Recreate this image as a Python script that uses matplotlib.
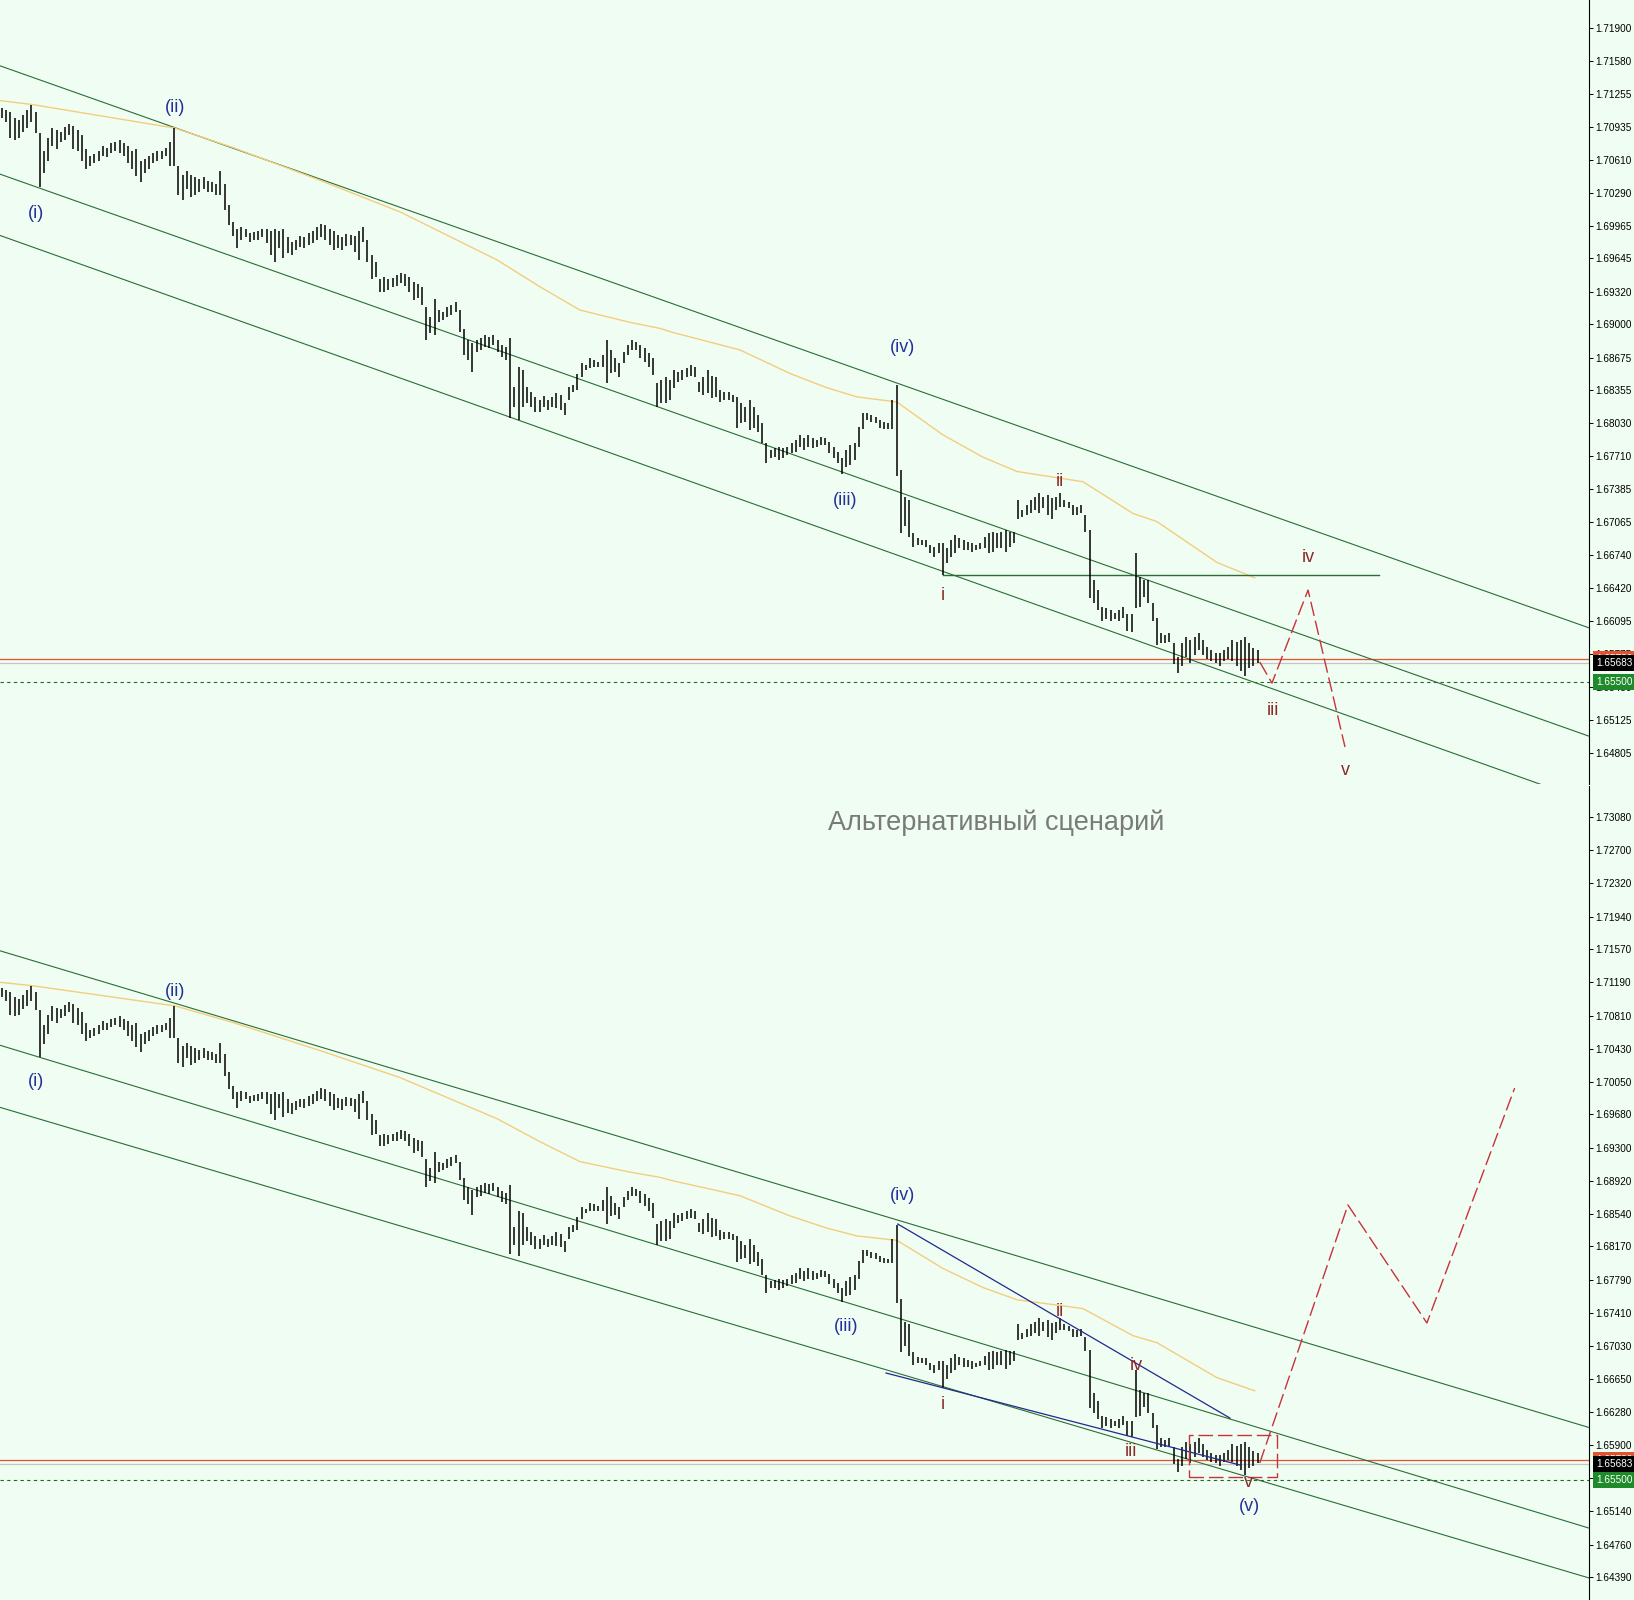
import matplotlib.pyplot as plt
from matplotlib.patches import Rectangle

plt.rcParams['font.family'] = ['Liberation Sans', 'DejaVu Sans']

# OHLC bar extremes (same price history in both panels)
bar_high = [
    1.7112, 1.7110, 1.7108, 1.7102, 1.7100, 1.7105, 1.7110, 1.7115, 1.7108, 1.7087,
    1.7070, 1.7082, 1.7092, 1.7090, 1.7088, 1.7093, 1.7096, 1.7094, 1.7090, 1.7085,
    1.7072, 1.7065, 1.7067, 1.7070, 1.7075, 1.7073, 1.7077, 1.7078, 1.7080, 1.7077,
    1.7075, 1.7070, 1.7072, 1.7060, 1.7062, 1.7065, 1.7068, 1.7070, 1.7070, 1.7073,
    1.7078, 1.7092, 1.7055, 1.7046, 1.7050, 1.7046, 1.7044, 1.7042, 1.7044, 1.7040,
    1.7039, 1.7037, 1.7050, 1.7037, 1.7017, 1.7000, 1.6993, 1.6995, 1.6993, 1.6989,
    1.6990, 1.6991, 1.6993, 1.6993, 1.6991, 1.6993, 1.6991, 1.6993, 1.6985, 1.6981,
    1.6983, 1.6986, 1.6985, 1.6989, 1.6991, 1.6995, 1.6998, 1.6997, 1.6993, 1.6991,
    1.6987, 1.6985, 1.6988, 1.6987, 1.6986, 1.6991, 1.6995, 1.6983, 1.6968, 1.6961,
    1.6944, 1.6946, 1.6944, 1.6945, 1.6948, 1.6950, 1.6949, 1.6946, 1.6941, 1.6939,
    1.6937, 1.6917, 1.6907, 1.6925, 1.6914, 1.6912, 1.6917, 1.6919, 1.6922, 1.6914,
    1.6895, 1.6885, 1.6882, 1.6885, 1.6887, 1.6890, 1.6888, 1.6890, 1.6885, 1.6880,
    1.6878, 1.6887, 1.6839, 1.6858, 1.6855, 1.6839, 1.6834, 1.6829, 1.6826, 1.6830,
    1.6826, 1.6829, 1.6833, 1.6831, 1.6823, 1.6839, 1.6841, 1.6851, 1.6862, 1.6860,
    1.6867, 1.6865, 1.6863, 1.6870, 1.6885, 1.6875, 1.6867, 1.6862, 1.6873, 1.6880,
    1.6885, 1.6883, 1.6880, 1.6877, 1.6872, 1.6867, 1.6843, 1.6846, 1.6848, 1.6846,
    1.6855, 1.6853, 1.6855, 1.6857, 1.6860, 1.6858, 1.6844, 1.6848, 1.6855, 1.6849,
    1.6848, 1.6836, 1.6834, 1.6834, 1.6831, 1.6829, 1.6823, 1.6819, 1.6826, 1.6819,
    1.6811, 1.6803, 1.6784, 1.6777, 1.6779, 1.6780, 1.6779, 1.6780, 1.6784, 1.6787,
    1.6792, 1.6789, 1.6792, 1.6789, 1.6787, 1.6790, 1.6789, 1.6785, 1.6780, 1.6775,
    1.6769, 1.6777, 1.6782, 1.6784, 1.6800, 1.6813, 1.6813, 1.6811, 1.6809, 1.6806,
    1.6804, 1.6803, 1.6826, 1.6841, 1.6757, 1.6731, 1.6728, 1.6696, 1.6691, 1.6689,
    1.6689, 1.6684, 1.6682, 1.6686, 1.6686, 1.6681, 1.6689, 1.6694, 1.6691, 1.6689,
    1.6687, 1.6686, 1.6684, 1.6686, 1.6692, 1.6696, 1.6697, 1.6696, 1.6697, 1.6699,
    1.6697, 1.6697, 1.6728, 1.6718, 1.6723, 1.6728, 1.6731, 1.6735, 1.6731, 1.6733,
    1.6730, 1.6731, 1.6735, 1.6728, 1.6726, 1.6723, 1.6721, 1.6723, 1.6713, 1.6699,
    1.6650, 1.6640, 1.6623, 1.6622, 1.6620, 1.6618, 1.6620, 1.6623, 1.6617, 1.6617,
    1.6676, 1.6653, 1.6650, 1.6650, 1.6627, 1.6613, 1.6598, 1.6596, 1.6598, 1.6588,
    1.6574, 1.6588, 1.6594, 1.6591, 1.6594, 1.6598, 1.6591, 1.6584, 1.6581, 1.6578,
    1.6578, 1.6581, 1.6584, 1.6591, 1.6589, 1.6591, 1.6594, 1.6588, 1.6583, 1.6581,
]
bar_low = [
    1.7102, 1.7098, 1.7082, 1.7080, 1.7082, 1.7088, 1.7092, 1.7098, 1.7087, 1.7034,
    1.7048, 1.7060, 1.7075, 1.7072, 1.7078, 1.7080, 1.7085, 1.7072, 1.7070, 1.7060,
    1.7052, 1.7055, 1.7058, 1.7060, 1.7065, 1.7064, 1.7068, 1.7070, 1.7068, 1.7065,
    1.7058, 1.7052, 1.7045, 1.7039, 1.7048, 1.7052, 1.7058, 1.7060, 1.7062, 1.7065,
    1.7055, 1.7055, 1.7027, 1.7022, 1.7032, 1.7025, 1.7027, 1.7030, 1.7032, 1.7030,
    1.7030, 1.7027, 1.7027, 1.7012, 1.6997, 1.6986, 1.6975, 1.6983, 1.6985, 1.6981,
    1.6983, 1.6983, 1.6985, 1.6980, 1.6968, 1.6961, 1.6975, 1.6965, 1.6970, 1.6968,
    1.6973, 1.6976, 1.6975, 1.6978, 1.6980, 1.6983, 1.6985, 1.6983, 1.6978, 1.6973,
    1.6975, 1.6973, 1.6977, 1.6978, 1.6971, 1.6963, 1.6981, 1.6961, 1.6944, 1.6946,
    1.6932, 1.6932, 1.6934, 1.6937, 1.6938, 1.6940, 1.6938, 1.6932, 1.6924, 1.6926,
    1.6919, 1.6885, 1.6892, 1.6890, 1.6902, 1.6904, 1.6907, 1.6909, 1.6912, 1.6893,
    1.6870, 1.6865, 1.6853, 1.6873, 1.6875, 1.6878, 1.6877, 1.6880, 1.6873, 1.6868,
    1.6865, 1.6808, 1.6819, 1.6806, 1.6819, 1.6823, 1.6819, 1.6814, 1.6814, 1.6819,
    1.6816, 1.6819, 1.6818, 1.6816, 1.6811, 1.6826, 1.6834, 1.6836, 1.6848, 1.6855,
    1.6857, 1.6858, 1.6858, 1.6858, 1.6843, 1.6852, 1.6853, 1.6848, 1.6862, 1.6870,
    1.6875, 1.6875, 1.6867, 1.6863, 1.6858, 1.6850, 1.6819, 1.6823, 1.6823, 1.6826,
    1.6838, 1.6844, 1.6846, 1.6848, 1.6849, 1.6848, 1.6834, 1.6831, 1.6833, 1.6828,
    1.6829, 1.6824, 1.6826, 1.6826, 1.6824, 1.6799, 1.6803, 1.6804, 1.6797, 1.6799,
    1.6795, 1.6784, 1.6764, 1.6769, 1.6770, 1.6767, 1.6769, 1.6772, 1.6774, 1.6775,
    1.6780, 1.6777, 1.6780, 1.6779, 1.6780, 1.6782, 1.6782, 1.6774, 1.6769, 1.6764,
    1.6754, 1.6760, 1.6762, 1.6767, 1.6780, 1.6798, 1.6806, 1.6804, 1.6803, 1.6799,
    1.6798, 1.6798, 1.6798, 1.6752, 1.6696, 1.6703, 1.6692, 1.6682, 1.6684, 1.6684,
    1.6682, 1.6676, 1.6672, 1.6676, 1.6655, 1.6666, 1.6672, 1.6676, 1.6681, 1.6679,
    1.6679, 1.6677, 1.6679, 1.6680, 1.6681, 1.6676, 1.6677, 1.6681, 1.6681, 1.6677,
    1.6682, 1.6686, 1.6710, 1.6711, 1.6713, 1.6715, 1.6718, 1.6715, 1.6720, 1.6713,
    1.6710, 1.6718, 1.6721, 1.6721, 1.6720, 1.6713, 1.6713, 1.6715, 1.6697, 1.6632,
    1.6627, 1.6620, 1.6610, 1.6612, 1.6610, 1.6612, 1.6610, 1.6613, 1.6600, 1.6599,
    1.6622, 1.6623, 1.6633, 1.6627, 1.6610, 1.6586, 1.6588, 1.6588, 1.6589, 1.6568,
    1.6559, 1.6566, 1.6574, 1.6569, 1.6576, 1.6581, 1.6576, 1.6573, 1.6571, 1.6569,
    1.6566, 1.6571, 1.6573, 1.6571, 1.6566, 1.6561, 1.6556, 1.6564, 1.6566, 1.6569,
]

# moving average (bar index, price)
ma_x = [-0.5, 7.4, 41.2, 55, 75.7, 94.8, 117.9, 128, 137.6, 149.5, 156.7, 159.8,
        175.7, 187.6, 196.4, 203.6, 213.1, 224, 233.6, 241.7, 257.4, 269.3, 275,
        289.3, 298.3]
ma_price = [1.7119, 1.7115, 1.7092, 1.7073, 1.7041, 1.7010, 1.6963, 1.6937,
            1.6914, 1.6902, 1.6896, 1.6892, 1.6875, 1.6852, 1.6838, 1.6829,
            1.6824, 1.6792, 1.6770, 1.6756, 1.6746, 1.6715, 1.6707, 1.6667, 1.6652]

x_range = (-0.48, 377.9)
# channel lines: price at left edge, price at right edge
chan_top = [(1.7153, 1.6603), (1.7047, 1.6497), (1.6987, 1.6433)]
chan_bot = [(1.7155, 1.6610), (1.7047, 1.6495), (1.6976, 1.6438)]

ylim_top = (1.64502, 1.72174)
ylim_bot = (1.64128, 1.73434)
ticks_top = [1.71900, 1.71580, 1.71255, 1.70935, 1.70610, 1.70290, 1.69965, 1.69645,
             1.69320, 1.69000, 1.68675, 1.68355, 1.68030, 1.67710, 1.67385, 1.67065,
             1.66740, 1.66420, 1.66095, 1.65775, 1.65450, 1.65125, 1.64805]
ticks_bot = [1.73080, 1.72700, 1.72320, 1.71940, 1.71570, 1.71190, 1.70810, 1.70430,
             1.70050, 1.69680, 1.69300, 1.68920, 1.68540, 1.68170, 1.67790, 1.67410,
             1.67030, 1.66650, 1.66280, 1.65900, 1.65520, 1.65140, 1.64760, 1.64390]

ask_price = 1.65730
bid_price = 1.65683
level_price = 1.65500

# wave i low level (top panel)
ilow_x = [224, 328]
ilow_price = 1.6655

# forecast paths
fc_top_x = [299.5, 302.4, 311, 319.8]
fc_top_p = [1.65696, 1.65490, 1.66400, 1.64864]
fc_bot_x = [299.5, 320.5, 339.3, 360.2]
fc_bot_p = [1.65694, 1.68644, 1.67295, 1.69981]

# triangle lines (bottom panel)
tri_upper_x = [213.3, 292.4]
tri_upper_p = [1.68426, 1.66208]
tri_lower_x = [210.5, 294.8]
tri_lower_p = [1.66723, 1.65671]
box_x = (282.6, 303.6)
box_p = (1.65534, 1.66014)

blue = '#25309a'
maroon = '#8b2a2a'
labels_top = [('(i)', 8.1, 1.7008, blue), ('(ii)', 41.2, 1.7112, blue),
              ('(iii)', 200.7, 1.6728, blue), ('(iv)', 214.5, 1.6877, blue),
              ('i', 224, 1.6635, maroon), ('ii', 251.9, 1.6746, maroon),
              ('iii', 302.6, 1.6522, maroon), ('iv', 311, 1.6672, maroon),
              ('v', 320, 1.6463, maroon)]
labels_bot = [('(i)', 8.1, 1.7005, blue), ('(ii)', 41.2, 1.7108, blue),
              ('(iii)', 201, 1.6725, blue), ('(iv)', 214.5, 1.6875, blue),
              ('i', 224, 1.6636, maroon), ('ii', 252, 1.6743, maroon),
              ('iii', 268.8, 1.6582, maroon), ('iv', 270, 1.6681, maroon),
              ('v', 296.7, 1.6547, maroon), ('(v)', 297, 1.6520, blue)]

bg = '#f0fdf2'
green = '#2a6e34'
red_dash = '#c8323c'
dash = (0, (10.5, 3.5))

fig = plt.figure(figsize=(16.34, 16.0), dpi=100, facecolor=bg)
ax_top = fig.add_axes([0, 0.51, 1589 / 1634, 0.49])
ax_bot = fig.add_axes([0, 0, 1589 / 1634, 0.50875])


def price_box(ax, price, text, fc, z):
    ax.text(1.0044, price, text, transform=ax.get_yaxis_transform(), ha='left',
            va='center', fontsize=7.2, color='white', clip_on=False, zorder=z,
            bbox=dict(boxstyle='square,pad=0.3', fc=fc, ec='none'))


def draw_panel(ax, ylim, ticks, chans):
    ax.set_facecolor(bg)
    ax.set_xlim(*x_range)
    ax.set_ylim(*ylim)
    for s in ['left', 'top', 'bottom']:
        ax.spines[s].set_visible(False)
    ax.spines['right'].set_linewidth(0.8)
    ax.set_xticks([])
    ax.yaxis.tick_right()
    ax.set_yticks(ticks)
    ax.set_yticklabels([f'{t:.5f}' for t in ticks])
    ax.tick_params(axis='y', direction='out', length=3, width=0.7, pad=1.5,
                   labelsize=7.2)

    for left, right in chans:
        ax.plot(x_range, [left, right], color=green, lw=0.8, zorder=2)
    ax.plot(ma_x, ma_price, color='#f3cd7e', lw=1.0, zorder=2)
    ax.vlines(range(len(bar_high)), bar_low, bar_high, color='black', lw=1.1, zorder=3)

    ax.axhline(ask_price, color='#e2532f', lw=0.9, zorder=1)
    ax.axhline(bid_price, color='#c4c4c4', lw=0.9, zorder=1)
    ax.axhline(level_price, color='#1d6b26', lw=0.8, ls=(0, (3, 3)), zorder=1)

    price_box(ax, ask_price, f'{ask_price:.5f}', '#e2532f', 10)
    price_box(ax, bid_price, f'{bid_price:.5f}', 'black', 11)
    price_box(ax, level_price, f'{level_price:.5f}', '#1f8a2a', 12)


draw_panel(ax_top, ylim_top, ticks_top, chan_top)
draw_panel(ax_bot, ylim_bot, ticks_bot, chan_bot)

# top panel extras
ax_top.plot(ilow_x, [ilow_price, ilow_price], color=green, lw=1.0, zorder=2)
ax_top.plot(fc_top_x, fc_top_p, color=red_dash, lw=1.0, ls=dash, zorder=4)
for txt, x, y, c in labels_top:
    ax_top.text(x, y, txt, color=c, fontsize=13, ha='center', va='center', zorder=5)

# bottom panel extras
ax_bot.plot(tri_upper_x, tri_upper_p, color='#202a8c', lw=0.9, zorder=4)
ax_bot.plot(tri_lower_x, tri_lower_p, color='#202a8c', lw=0.9, zorder=4)
ax_bot.add_patch(Rectangle((box_x[0], box_p[0]), box_x[1] - box_x[0], box_p[1] - box_p[0],
                           fill=False, ec=red_dash, lw=1.0, ls=dash, zorder=4))
ax_bot.plot(fc_bot_x, fc_bot_p, color=red_dash, lw=1.0, ls=dash, zorder=4)
for txt, x, y, c in labels_bot:
    ax_bot.text(x, y, txt, color=c, fontsize=13, ha='center', va='center', zorder=5)

fig.text(996 / 1634, 1 - 823 / 1600, 'Альтернативный сценарий', ha='center',
         va='center', fontsize=19.5, color='#7a7a7a')

fig.savefig('out.png', dpi=100, facecolor=bg)
